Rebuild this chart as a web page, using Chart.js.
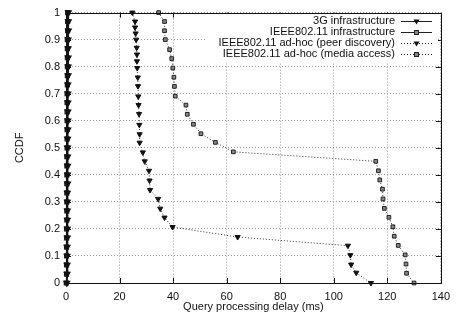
<!DOCTYPE html>
<html>
<head>
<meta charset="utf-8">
<script src="https://cdn.jsdelivr.net/npm/chart.js@4"></script>
<style>
  html, body { margin: 0; padding: 0; background: #fff; }
</style>
</head>
<body>
<canvas id="chart" width="457" height="320"></canvas>
<script>
// series names, in legend order
const seriesLabels = [
  '3G infrastructure',
  'IEEE802.11 infrastructure',
  'IEEE802.11 ad-hoc (peer discovery)',
  'IEEE802.11 ad-hoc (media access)'
];

// 3G and 802.11 infrastructure sit right on the y axis (~0 ms)
const g3Delay = [0.9, 0.9, 0.9, 0.8, 0.8, 0.8, 0.8, 0.8, 0.7, 0.7, 0.7, 0.7, 0.7, 0.7, 0.6, 0.6,
                 0.6, 0.6, 0.6, 0.6, 0.5, 0.5, 0.5, 0.5, 0.5, 0.5, 0.4, 0.4, 0.4, 0.4, 0.3];
const g3Ccdf = [1, 0.967, 0.933, 0.9, 0.867, 0.833, 0.8, 0.767, 0.733, 0.7, 0.667, 0.633, 0.6, 0.567, 0.533, 0.5,
                0.467, 0.433, 0.4, 0.367, 0.333, 0.3, 0.267, 0.233, 0.2, 0.167, 0.133, 0.1, 0.067, 0.033, 0];

const infraDelay = [0.6, 0.6, 0.6, 0.5, 0.5, 0.5, 0.5, 0.5, 0.5, 0.4, 0.4, 0.4, 0.4, 0.4, 0.4, 0.4,
                    0.3, 0.3, 0.3, 0.3, 0.3, 0.3, 0.3, 0.3, 0.2, 0.2, 0.2, 0.2, 0.2, 0.2, 0.1];
const infraCcdf = [1, 0.967, 0.933, 0.9, 0.867, 0.833, 0.8, 0.767, 0.733, 0.7, 0.667, 0.633, 0.6, 0.567, 0.533, 0.5,
                   0.467, 0.433, 0.4, 0.367, 0.333, 0.3, 0.267, 0.233, 0.2, 0.167, 0.133, 0.1, 0.067, 0.033, 0];

const peerDelay = [24.8, 25.8, 25.8, 26.0, 26.2, 26.4, 26.5, 26.5, 26.6, 26.8, 26.9, 27.0, 27.1, 27.3, 27.4, 27.5,
                   27.5, 28.7, 29.4, 31.0, 31.2, 31.4, 34.4, 35.2, 36.8, 39.8, 64.1, 105.3, 106.2, 106.5, 108.4, 113.9];
const peerCcdf = [1, 0.967, 0.945, 0.923, 0.9, 0.87, 0.845, 0.82, 0.795, 0.76, 0.728, 0.69, 0.658, 0.625, 0.585, 0.55,
                  0.519, 0.483, 0.45, 0.415, 0.379, 0.344, 0.311, 0.275, 0.242, 0.207, 0.17, 0.138, 0.103, 0.068, 0.038, 0];

const mediaDelay = [34.6, 36.8, 36.8, 37.1, 38.7, 39.5, 39.9, 40.3, 40.5, 40.8, 44.8, 45.3, 47.6, 50.4, 55.8,
                    62.5, 115.7, 116.7, 117.2, 118.2, 118.4, 118.9, 120.6, 122.1, 122.6, 124.1, 126.7, 127.0, 127.2, 130.0];
const mediaCcdf = [1, 0.967, 0.933, 0.9, 0.863, 0.83, 0.795, 0.761, 0.727, 0.691, 0.658, 0.624, 0.587, 0.552, 0.52,
                   0.485, 0.45, 0.415, 0.381, 0.347, 0.311, 0.276, 0.243, 0.208, 0.173, 0.139, 0.104, 0.07, 0.036, 0];

const xTickLabels = ['0', '20', '40', '60', '80', '100', '120', '140'];
const yTickLabels = ['0', '0.1', '0.2', '0.3', '0.4', '0.5', '0.6', '0.7', '0.8', '0.9', '1'];

const FONT = '"Liberation Sans", Arial, Helvetica, sans-serif';

function pts(xs, ys) {
  return xs.map((x, i) => ({ x: x, y: ys[i] }));
}

function drawMarker(ctx, style, x, y) {
  ctx.setLineDash([]);
  if (style === 'triangle') {
    ctx.fillStyle = '#111';
    ctx.beginPath();
    ctx.moveTo(x - 3, y - 2);
    ctx.lineTo(x + 3, y - 2);
    ctx.lineTo(x, y + 3);
    ctx.closePath();
    ctx.fill();
  } else {
    ctx.fillStyle = '#888';
    ctx.strokeStyle = '#222';
    ctx.lineWidth = 1;
    ctx.fillRect(x - 2, y - 2, 4, 4);
    ctx.strokeRect(x - 2, y - 2, 4, 4);
  }
}

// frame with inward ticks (gnuplot look) and the key box
const frameAndKey = {
  id: 'frameAndKey',
  afterDatasetsDraw(chart) {
    const ctx = chart.ctx;
    const a = chart.chartArea;
    const xs = chart.scales.x, ys = chart.scales.y;
    ctx.save();
    ctx.strokeStyle = '#111';
    ctx.lineWidth = 1;
    ctx.setLineDash([]);
    ctx.beginPath();
    xs.ticks.forEach(t => {
      const px = Math.round(xs.getPixelForValue(t.value)) + 0.5;
      ctx.moveTo(px, a.bottom); ctx.lineTo(px, a.bottom - 5);
      ctx.moveTo(px, a.top); ctx.lineTo(px, a.top + 5);
    });
    ys.ticks.forEach(t => {
      const py = Math.round(ys.getPixelForValue(t.value)) + 0.5;
      ctx.moveTo(a.left, py); ctx.lineTo(a.left + 5, py);
      ctx.moveTo(a.right, py); ctx.lineTo(a.right - 5, py);
    });
    ctx.stroke();
    ctx.strokeRect(Math.round(a.left) + 0.5, Math.round(a.top) + 0.5,
                   Math.round(a.right - a.left), Math.round(a.bottom - a.top));

    // key
    ctx.fillStyle = '#fff';
    ctx.fillRect(206, 14, 232, 48);
    ctx.font = '11px ' + FONT;
    ctx.textAlign = 'right';
    ctx.textBaseline = 'middle';
    chart.data.datasets.forEach((ds, i) => {
      const y = 21 + i * 11;
      ctx.fillStyle = '#111';
      ctx.fillText(seriesLabels[i], 395, y);
      ctx.strokeStyle = '#222';
      ctx.lineWidth = 1;
      ctx.setLineDash(ds.borderDash || []);
      ctx.beginPath();
      ctx.moveTo(401, y + 0.5);
      ctx.lineTo(432, y + 0.5);
      ctx.stroke();
      drawMarker(ctx, ds.pointStyle, 416.5, y + 0.5);
    });
    ctx.restore();
  }
};

const ctx = document.getElementById('chart').getContext('2d');

new Chart(ctx, {
  type: 'scatter',
  data: {
    datasets: [
      {
        label: seriesLabels[0],
        data: pts(g3Delay, g3Ccdf),
        showLine: true,
        borderColor: '#111',
        borderWidth: 1.5,
        pointStyle: 'triangle',
        pointRotation: 180,
        pointRadius: 3,
        backgroundColor: '#111',
        pointBorderColor: '#111',
        clip: false
      },
      {
        label: seriesLabels[1],
        data: pts(infraDelay, infraCcdf),
        showLine: true,
        borderColor: '#222',
        borderWidth: 1.5,
        pointStyle: 'rect',
        pointRadius: 2.6,
        backgroundColor: '#888',
        pointBorderColor: '#222',
        clip: false
      },
      {
        label: seriesLabels[2],
        data: pts(peerDelay, peerCcdf),
        showLine: true,
        borderColor: '#333',
        borderWidth: 1,
        borderDash: [1, 2],
        pointStyle: 'triangle',
        pointRotation: 180,
        pointRadius: 3,
        backgroundColor: '#111',
        pointBorderColor: '#111',
        clip: false
      },
      {
        label: seriesLabels[3],
        data: pts(mediaDelay, mediaCcdf),
        showLine: true,
        borderColor: '#333',
        borderWidth: 1,
        borderDash: [1, 2],
        pointStyle: 'rect',
        pointRadius: 2.6,
        backgroundColor: '#888',
        pointBorderColor: '#222',
        clip: false
      }
    ]
  },
  options: {
    responsive: false,
    animation: false,
    devicePixelRatio: 1,
    layout: { padding: { left: 0, right: 10, top: 11, bottom: 0 } },
    plugins: {
      legend: { display: false },
      tooltip: { enabled: false }
    },
    scales: {
      x: {
        type: 'linear',
        min: 0,
        max: 140,
        afterFit(scale) { scale.height = 37; },
        ticks: {
          stepSize: 20,
          padding: 7,
          color: '#111',
          font: { family: FONT, size: 11 },
          maxRotation: 0,
          callback: (v, i) => xTickLabels[i]
        },
        grid: { color: '#999', drawTicks: false },
        border: { display: false, dash: [1, 2] },
        title: {
          display: true,
          text: 'Query processing delay (ms)',
          color: '#111',
          font: { family: FONT, size: 11 },
          padding: { top: 0, bottom: 6 }
        }
      },
      y: {
        type: 'linear',
        min: 0,
        max: 1,
        afterFit(scale) { scale.width = 66; },
        ticks: {
          stepSize: 0.1,
          padding: 6,
          color: '#111',
          font: { family: FONT, size: 11 },
          callback: (v, i) => yTickLabels[i]
        },
        grid: { color: '#999', drawTicks: false },
        border: { display: false, dash: [1, 2] },
        title: {
          display: true,
          text: 'CCDF',
          color: '#111',
          font: { family: FONT, size: 11 },
          padding: { top: 13, bottom: 0 }
        }
      }
    }
  },
  plugins: [frameAndKey]
});
</script>
</body>
</html>
